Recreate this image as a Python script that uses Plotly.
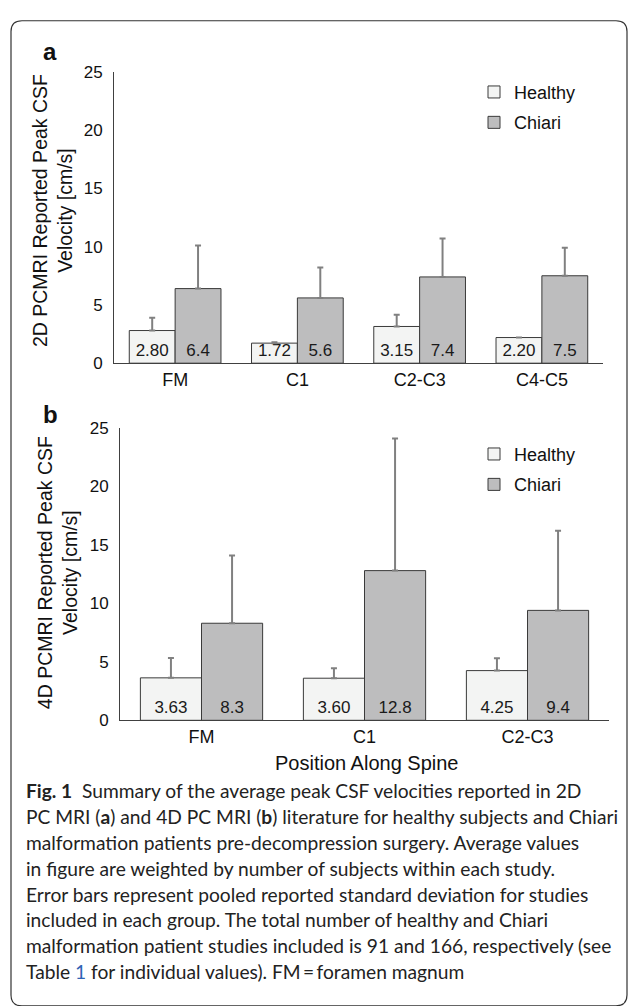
import plotly.graph_objects as go

# ---------------- data ----------------
cats_2d = ["FM", "C1", "C2-C3", "C4-C5"]
healthy_2d = [2.80, 1.72, 3.15, 2.20]
chiari_2d = [6.4, 5.6, 7.4, 7.5]
healthy_2d_sd = [1.1, 0.07, 1.0, None]
chiari_2d_sd = [3.7, 2.6, 3.3, 2.4]

cats_4d = ["FM", "C1", "C2-C3"]
healthy_4d = [3.63, 3.60, 4.25]
chiari_4d = [8.3, 12.8, 9.4]
healthy_4d_sd = [1.7, 0.85, 1.05]
chiari_4d_sd = [5.8, 11.3, 6.8]

y_ticks = [0, 5, 10, 15, 20, 25]
series_names = ["Healthy", "Chiari"]

caption_lines = [
    "<b>Fig. 1</b>  Summary of the average peak CSF velocities reported in 2D",
    "PC MRI (<b>a</b>) and 4D PC MRI (<b>b</b>) literature for healthy subjects and Chiari",
    "malformation patients pre-decompression surgery. Average values",
    "in figure are weighted by number of subjects within each study.",
    "Error bars represent pooled reported standard deviation for studies",
    "included in each group. The total number of healthy and Chiari",
    "malformation patient studies included is 91 and 166, respectively (see",
    "Table <span style='color:#2f63b5'>1</span> for individual values). FM\u2009=\u2009foramen magnum",
]

# ---------------- geometry helpers ----------------
W, H = 630, 1006


def px(x):
    return x / W


def py(y):
    return 1 - y / H


HEALTHY_FILL = "#f3f4f3"
CHIARI_FILL = "#bdbdbe"
EDGE = "#3a3a3a"
ERR = "#808080"
FONT = "Liberation Sans, Arial, sans-serif"

fig = go.Figure()


def add_panel(cats, hv, cv, hsd, csd, xa, ya, legend):
    for name, vals, sd, fill, fmt in [
        (series_names[0], hv, hsd, HEALTHY_FILL, "{:.2f}"),
        (series_names[1], cv, csd, CHIARI_FILL, "{:.1f}"),
    ]:
        fig.add_trace(go.Bar(
            x=cats, y=vals, name=name,
            xaxis=xa, yaxis=ya, legend=legend,
            legendgroup=name + legend,
            marker=dict(color=fill, line=dict(color=EDGE, width=1)),
            text=[fmt.format(v) for v in vals],
            textposition="inside", insidetextanchor="start",
            textfont=dict(family=FONT, size=17, color="#1a1a1a"),
            cliponaxis=False,
            error_y=dict(type="data", symmetric=False, array=sd,
                         arrayminus=[0] * len(vals),
                         color=ERR, thickness=2, width=3),
            hoverinfo="skip",
        ))


add_panel(cats_2d, healthy_2d, chiari_2d, healthy_2d_sd, chiari_2d_sd, "x", "y", "legend")
add_panel(cats_4d, healthy_4d, chiari_4d, healthy_4d_sd, chiari_4d_sd, "x2", "y2", "legend2")

line_common = dict(showgrid=False, zeroline=False, showline=True,
                   linecolor="#404040", linewidth=1, ticks="")
xt_font = dict(family=FONT, size=18, color="#111")
yt_font = dict(family=FONT, size=17, color="#111")

fig.update_layout(
    width=W, height=H,
    margin=dict(l=0, r=0, t=0, b=0),
    paper_bgcolor="white", plot_bgcolor="white",
    barmode="group", bargap=0.25, bargroupgap=0,
    uniformtext=dict(minsize=17, mode="show"),
    font=dict(family=FONT, color="#111"),
    xaxis=dict(domain=[px(114), px(603)], anchor="y", tickfont=xt_font, **line_common),
    yaxis=dict(domain=[py(361), py(64)], anchor="x", range=[0, 25],
               tickvals=y_ticks, ticklabelstandoff=7, tickfont=yt_font, **line_common),
    xaxis2=dict(domain=[px(120), px(609)], anchor="y2", tickfont=xt_font, **line_common),
    yaxis2=dict(domain=[py(725), py(427)], anchor="x2", range=[0, 25],
                tickvals=y_ticks, ticklabelstandoff=7, tickfont=yt_font, **line_common),
    legend=dict(x=px(474), y=py(66), xanchor="left", yanchor="top",
                bgcolor="rgba(0,0,0,0)", font=dict(family=FONT, size=18, color="#111"),
                itemwidth=30, tracegroupgap=4, traceorder="grouped"),
    legend2=dict(x=px(474), y=py(435), xanchor="left", yanchor="top",
                 bgcolor="rgba(0,0,0,0)", font=dict(family=FONT, size=18, color="#111"),
                 itemwidth=30, tracegroupgap=4, traceorder="grouped"),
    showlegend=True,
)

annotations = [
    dict(text="<b>a</b>", x=px(50), y=py(43), font=dict(family=FONT, size=24, color="#111")),
    dict(text="<b>b</b>", x=px(50), y=py(413), font=dict(family=FONT, size=24, color="#111")),
    dict(text="2D PCMRI Reported Peak CSF<br>Velocity [cm/s]", x=px(52), y=py(206),
         textangle=-90, font=dict(family=FONT, size=19.5, color="#111")),
    dict(text="4D PCMRI Reported Peak CSF<br>Velocity [cm/s]", x=px(57), y=py(575),
         textangle=-90, font=dict(family=FONT, size=19.5, color="#111")),
    dict(text="Position Along Spine", x=px(366), y=py(769),
         font=dict(family=FONT, size=20, color="#111")),
]
for a in annotations:
    a.update(xref="paper", yref="paper", showarrow=False, xanchor="center", yanchor="middle")

y0, dy = 797, 26.3
for i, line in enumerate(caption_lines):
    annotations.append(dict(
        text=line, xref="paper", yref="paper", x=px(24), y=py(y0 + i * dy),
        xanchor="left", yanchor="middle", showarrow=False, align="left",
        font=dict(family="Lato, Open Sans, sans-serif", size=19.2, color="#222"),
    ))
fig.update_layout(annotations=annotations)

# rounded frame
x0f, y0f, x1f, y1f, r = 11, 12, 627, 1016, 11
path = (f"M {px(x0f)},{py(y0f + r)} "
        f"Q {px(x0f)},{py(y0f)} {px(x0f + r)},{py(y0f)} "
        f"L {px(x1f - r)},{py(y0f)} "
        f"Q {px(x1f)},{py(y0f)} {px(x1f)},{py(y0f + r)} "
        f"L {px(x1f)},{py(y1f - r)} "
        f"Q {px(x1f)},{py(y1f)} {px(x1f - r)},{py(y1f)} "
        f"L {px(x0f + r)},{py(y1f)} "
        f"Q {px(x0f)},{py(y1f)} {px(x0f)},{py(y1f - r)} Z")
fig.add_shape(type="path", path=path, xref="paper", yref="paper",
              line=dict(color="#333", width=1.2), fillcolor="rgba(0,0,0,0)")

fig.write_html(
    "out.html",
    config={"displayModeBar": False},
    post_script="document.body.style.margin='0';document.body.style.overflow='hidden';",
)
